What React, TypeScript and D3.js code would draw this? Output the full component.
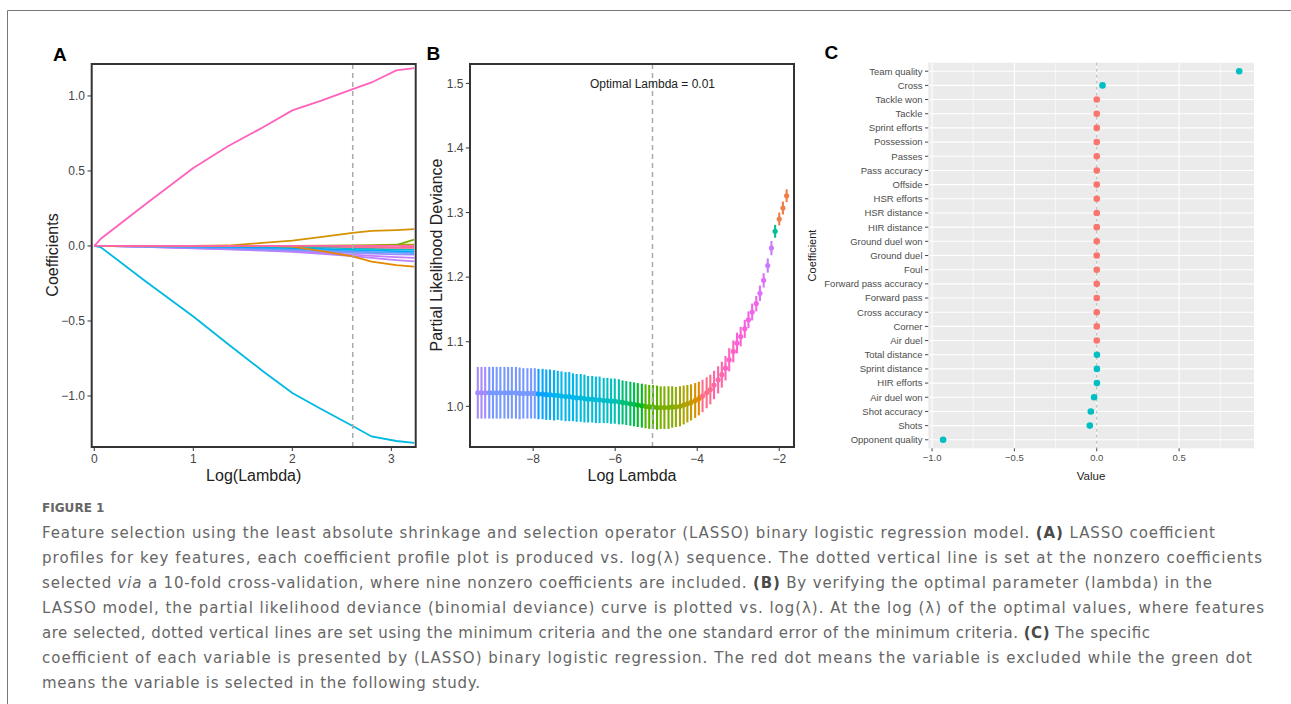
import * as d3 from "d3";
import React from "react";

// ---------- Panel A: LASSO coefficient profiles ----------
const profileLogLambda = [0, 0.07, 0.5, 1.0, 1.35, 1.7, 2.0, 2.3, 2.61, 2.8, 3.05, 3.23];
const profileValues = [
  [0, 0, -0.006, -0.016, -0.023, -0.031, -0.04, -0.052, -0.068, -0.08, -0.094, -0.102],
  [0, 0, -0.006, -0.015, -0.021, -0.028, -0.036, -0.046, -0.058, -0.066, -0.075, -0.08],
  [0, 0, -0.005, -0.012, -0.018, -0.024, -0.03, -0.038, -0.046, -0.051, -0.056, -0.058],
  [0, 0, -0.004, -0.009, -0.013, -0.018, -0.023, -0.03, -0.037, -0.041, -0.045, -0.047],
  [0, 0, 0, -0.003, -0.006, -0.01, -0.014, -0.02, -0.026, -0.03, -0.034, -0.036],
  [0, 0, 0, 0, 0, -0.002, -0.005, -0.01, -0.016, -0.02, -0.023, -0.025],
  [0, 0, 0, 0, 0, 0, 0, -0.003, -0.008, -0.01, -0.012, -0.013],
  [0, 0, 0, 0, 0, 0, 0, 0.002, 0.004, 0.006, 0.008, 0.009],
  [0, 0, 0, 0, 0, 0, 0, 0, 0, 0.001, 0.005, 0.042],
  [0, 0, 0, 0, 0, 0, -0.005, -0.035, -0.07, -0.105, -0.128, -0.137],
  [0, 0, 0, 0, 0.003, 0.02, 0.035, 0.06, 0.088, 0.1, 0.106, 0.112],
  [0, -0.01, -0.227, -0.47, -0.653, -0.833, -0.98, -1.09, -1.2, -1.27, -1.3, -1.313],
  [0, 0, 0, 0, 0, 0, 0, 0, 0, 0, 0, -0.002],
  [0, 0.05, 0.27, 0.52, 0.665, 0.79, 0.904, 0.97, 1.045, 1.09, 1.17, 1.185],
];
const profileColors = [
  "#B983FF", "#C77CFF", "#9590FF", "#619CFF", "#00A9FF", "#00BFC4", "#FF6C91",
  "#ABA300", "#7CAE00", "#E38900", "#D39200", "#00B9E3", "#FF64B0", "#FF62BC",
];
const profileCutoff = 2.61;

// ---------- Panel B: cross-validation deviance ----------
const cvLogLambda = [
  -9.35, -9.26, -9.17, -9.07, -8.98, -8.89, -8.8, -8.7, -8.61, -8.52,
  -8.42, -8.33, -8.24, -8.14, -8.05, -7.96, -7.87, -7.77, -7.68, -7.59,
  -7.49, -7.4, -7.31, -7.21, -7.12, -7.03, -6.94, -6.84, -6.75, -6.66,
  -6.56, -6.47, -6.38, -6.28, -6.19, -6.1, -6.01, -5.91, -5.82, -5.73,
  -5.63, -5.54, -5.45, -5.35, -5.26, -5.17, -5.08, -4.98, -4.89, -4.8,
  -4.7, -4.61, -4.52, -4.42, -4.33, -4.24, -4.15, -4.05, -3.96, -3.87,
  -3.77, -3.68, -3.59, -3.49, -3.4, -3.31, -3.22, -3.12, -3.03, -2.94,
  -2.84, -2.75, -2.66, -2.56, -2.47, -2.38, -2.28, -2.19, -2.1, -2.0,
  -1.91, -1.82,
];
const cvMean = [
  1.021, 1.021, 1.021, 1.021, 1.021, 1.021, 1.021, 1.021, 1.021, 1.021,
  1.021, 1.02, 1.02, 1.02, 1.02, 1.02, 1.019, 1.019, 1.018, 1.018,
  1.017, 1.017, 1.016, 1.015, 1.015, 1.014, 1.013, 1.013, 1.012, 1.011,
  1.011, 1.01, 1.01, 1.009, 1.009, 1.008, 1.008, 1.007, 1.006, 1.005,
  1.004, 1.003, 1.002, 1.001, 1.0, 0.999, 0.999, 0.998, 0.998, 0.998,
  0.998, 0.999, 0.999, 1.0, 1.002, 1.004, 1.006, 1.009, 1.012, 1.016,
  1.021, 1.026, 1.033, 1.041, 1.049, 1.059, 1.072, 1.085, 1.098, 1.108,
  1.12, 1.134, 1.146, 1.159, 1.175, 1.195, 1.218, 1.245, 1.271, 1.29,
  1.307, 1.326,
];
const cvSd = [
  0.04, 0.04, 0.04, 0.04, 0.04, 0.04, 0.04, 0.04, 0.04, 0.04,
  0.04, 0.04, 0.039, 0.039, 0.039, 0.039, 0.039, 0.039, 0.039, 0.039,
  0.039, 0.038, 0.038, 0.038, 0.038, 0.037, 0.037, 0.037, 0.037, 0.036,
  0.036, 0.036, 0.036, 0.035, 0.035, 0.035, 0.035, 0.035, 0.034, 0.034,
  0.034, 0.034, 0.034, 0.034, 0.034, 0.034, 0.034, 0.034, 0.033, 0.033,
  0.033, 0.032, 0.031, 0.031, 0.03, 0.029, 0.028, 0.027, 0.026, 0.025,
  0.024, 0.023, 0.022, 0.021, 0.02, 0.019, 0.018, 0.017, 0.016, 0.015,
  0.014, 0.013, 0.013, 0.012, 0.012, 0.011, 0.011, 0.011, 0.01, 0.01,
  0.01, 0.01,
];
const cvNonzero = [
  27, 27, 27, 26, 26, 26, 26, 26, 26, 26,
  26, 26, 26, 26, 26, 26, 25, 25, 25, 24,
  24, 23, 23, 23, 23, 23, 23, 22, 22, 22,
  22, 22, 22, 21, 21, 21, 20, 20, 19, 19,
  18, 18, 17, 17, 16, 16, 16, 16, 15, 15,
  15, 15, 14, 14, 13, 13, 12, 11, 10, 9,
  9, 9, 8, 8, 8, 7, 7, 7, 6, 6,
  6, 5, 5, 5, 4, 4, 3, 3, 2, 1,
  1, 1,
];
// factor levels of the nonzero count (0 to 27 variables), ordered as strings
const nonzeroLevels = [
  "0", "1", "10", "11", "12", "13", "14", "15", "16", "17", "18", "19", "2", "20",
  "21", "22", "23", "24", "25", "26", "27", "3", "4", "5", "6", "7", "8", "9",
];
const optimalLogLambda = -5.09;

// ---------- Panel C: coefficient of each variable ----------
const coefNames = [
  "Team quality", "Cross", "Tackle won", "Tackle", "Sprint efforts", "Possession",
  "Passes", "Pass accuracy", "Offside", "HSR efforts", "HSR distance", "HIR distance",
  "Ground duel won", "Ground duel", "Foul", "Forward pass accuracy", "Forward pass",
  "Cross accuracy", "Corner", "Air duel", "Total distance", "Sprint distance",
  "HIR efforts", "Air duel won", "Shot accuracy", "Shots", "Opponent quality",
];
const coefValues = [
  0.865, 0.035, 0, 0, 0, 0, 0, 0, 0, 0, 0, 0, 0, 0, 0, 0, 0, 0, 0, 0,
  0.001, 0.001, 0.001, -0.016, -0.036, -0.042, -0.933,
];

// ---------- caption ----------
type Seg = { t: string; b?: boolean; i?: boolean };
const captionLines: Seg[][] = [
  [
    { t: "Feature selection using the least absolute shrinkage and selection operator (LASSO) binary logistic regression model. " },
    { t: "(A)", b: true },
    { t: " LASSO coefficient" },
  ],
  [{ t: "profiles for key features, each coefficient profile plot is produced vs. log(λ) sequence. The dotted vertical line is set at the nonzero coefficients" }],
  [
    { t: "selected " },
    { t: "via", i: true },
    { t: " a 10-fold cross-validation, where nine nonzero coefficients are included. " },
    { t: "(B)", b: true },
    { t: " By verifying the optimal parameter (lambda) in the" },
  ],
  [{ t: "LASSO model, the partial likelihood deviance (binomial deviance) curve is plotted vs. log(λ). At the log (λ) of the optimal values, where features" }],
  [
    { t: "are selected, dotted vertical lines are set using the minimum criteria and the one standard error of the minimum criteria. " },
    { t: "(C)", b: true },
    { t: " The specific" },
  ],
  [{ t: "coefficient of each variable is presented by (LASSO) binary logistic regression. The red dot means the variable is excluded while the green dot" }],
  [{ t: "means the variable is selected in the following study." }],
];
const captionEnds = [1215, 1262, 1212, 1264, 1150, 1252, 480];

// ggplot2-style hue colour (polar LUV)
function hueColor(h: number, c = 100, l = 65) {
  const hr = (h * Math.PI) / 180;
  const U = c * Math.cos(hr);
  const V = c * Math.sin(hr);
  const Xn = 95.047, Yn = 100, Zn = 108.883;
  const Y = Yn * (l > 8 ? Math.pow((l + 16) / 116, 3) : l / 903.3);
  const den = Xn + 15 * Yn + 3 * Zn;
  const u = U / (13 * l) + (4 * Xn) / den;
  const v = V / (13 * l) + (9 * Yn) / den;
  const X = (9 * Y * u) / (4 * v);
  const Z = -X / 3 - 5 * Y + (3 * Y) / v;
  const x = X / 100, y = Y / 100, z = Z / 100;
  const lin = [
    3.240479 * x - 1.53715 * y - 0.498535 * z,
    -0.969256 * x + 1.875992 * y + 0.041556 * z,
    0.055648 * x - 0.204043 * y + 1.057311 * z,
  ];
  const g = lin.map((t) => {
    const s = t <= 0.0031308 ? 12.92 * t : 1.055 * Math.pow(t, 1 / 2.4) - 0.055;
    return Math.round(Math.max(0, Math.min(1, s)) * 255);
  });
  return d3.rgb(g[0], g[1], g[2]).formatHex();
}

const FONT = "'Liberation Sans', Arial, Helvetica, sans-serif";
const fmt = d3.format(".1f");

function PanelA() {
  const x = d3.scaleLinear().domain([-0.026, 3.246]).range([91.7, 415.7]);
  const y = d3.scaleLinear().domain([-1.34, 1.213]).range([447, 64]);
  const line = d3
    .line<number>()
    .x((_, i) => x(profileLogLambda[i]))
    .y((d) => y(d));
  return (
    <g fontFamily={FONT}>
      <text x={53} y={60.5} fontSize={19} fontWeight={700} fill="#000">A</text>
      {profileValues.map((vals, i) => (
        <path key={i} d={line(vals) || ""} fill="none" stroke={profileColors[i]} strokeWidth={1.8} />
      ))}
      <line x1={x(profileCutoff)} x2={x(profileCutoff)} y1={64} y2={447} stroke="#aaa" strokeWidth={1.5} strokeDasharray="5,4" />
      <rect x={91.7} y={64} width={324} height={383} fill="none" stroke="#333" strokeWidth={2} />
      {[-1, -0.5, 0, 0.5, 1].map((t) => (
        <g key={t}>
          <line x1={87.5} x2={91.7} y1={y(t)} y2={y(t)} stroke="#333" />
          <text x={85} y={y(t) + 4.3} textAnchor="end" fontSize={12} fill="#444">{fmt(t)}</text>
        </g>
      ))}
      {[0, 1, 2, 3].map((t) => (
        <g key={t}>
          <line x1={x(t)} x2={x(t)} y1={447} y2={451} stroke="#333" />
          <text x={x(t)} y={462.6} textAnchor="middle" fontSize={12} fill="#444">{t}</text>
        </g>
      ))}
      <text x={253.7} y={480.5} textAnchor="middle" fontSize={16} fill="#222">Log(Lambda)</text>
      <text transform="translate(57.5,255) rotate(-90)" textAnchor="middle" fontSize={16} fill="#222">Coefficients</text>
    </g>
  );
}

function PanelB() {
  const x = d3.scaleLinear().domain([-9.54, -1.64]).range([470, 794]);
  const y = d3.scaleLinear().domain([0.937, 1.53]).range([447, 64]);
  const color = d3
    .scaleOrdinal<string, string>()
    .domain(nonzeroLevels)
    .range(nonzeroLevels.map((_, i) => hueColor(15 + (360 * i) / nonzeroLevels.length)));
  return (
    <g fontFamily={FONT}>
      <text x={426.5} y={60} fontSize={19} fontWeight={700} fill="#000">B</text>
      {cvLogLambda.map((lx, i) => (
        <line
          key={"b" + i}
          x1={x(lx)}
          x2={x(lx)}
          y1={y(cvMean[i] - cvSd[i])}
          y2={y(cvMean[i] + cvSd[i])}
          stroke={color(String(cvNonzero[i]))}
          strokeWidth={2.1}
        />
      ))}
      {cvLogLambda.map((lx, i) => (
        <circle key={"p" + i} cx={x(lx)} cy={y(cvMean[i])} r={2.6} fill={color(String(cvNonzero[i]))} />
      ))}
      <line x1={x(optimalLogLambda)} x2={x(optimalLogLambda)} y1={64} y2={447} stroke="#aaa" strokeWidth={1.5} strokeDasharray="5,4" />
      <text x={x(optimalLogLambda)} y={y(1.5) + 4.2} textAnchor="middle" fontSize={12} fill="#222">Optimal Lambda = 0.01</text>
      <rect x={470} y={64} width={324} height={383} fill="none" stroke="#333" strokeWidth={2} />
      {[1.0, 1.1, 1.2, 1.3, 1.4, 1.5].map((t) => (
        <g key={t}>
          <line x1={465.8} x2={470} y1={y(t)} y2={y(t)} stroke="#333" />
          <text x={463.5} y={y(t) + 4.3} textAnchor="end" fontSize={12} fill="#444">{fmt(t)}</text>
        </g>
      ))}
      {[-8, -6, -4, -2].map((t) => (
        <g key={t}>
          <line x1={x(t)} x2={x(t)} y1={447} y2={451} stroke="#333" />
          <text x={x(t)} y={462.6} textAnchor="middle" fontSize={12} fill="#444">{d3.format("d")(t)}</text>
        </g>
      ))}
      <text x={632} y={480.5} textAnchor="middle" fontSize={16} fill="#222">Log Lambda</text>
      <text transform="translate(441.5,255) rotate(-90)" textAnchor="middle" fontSize={16} fill="#222">Partial Likelihood Deviance</text>
    </g>
  );
}

function PanelC() {
  const [lo, hi] = d3.extent(coefValues) as [number, number];
  const pad = (hi - lo) * 0.05;
  const x = d3.scaleLinear().domain([lo - pad, hi + pad]).range([928.3, 1254]);
  const y = d3.scalePoint<string>().domain(coefNames).range([62.7, 448.3]).padding(0.6);
  const top = 62.7, bottom = 448.3;
  return (
    <g fontFamily={FONT}>
      <text x={824.5} y={59} fontSize={19} fontWeight={700} fill="#000">C</text>
      <rect x={928.3} y={top} width={1254 - 928.3} height={bottom - top} fill="#EBEBEB" />
      {[-0.75, -0.25, 0.25, 0.75].map((t) => (
        <line key={t} x1={x(t)} x2={x(t)} y1={top} y2={bottom} stroke="#fff" strokeWidth={0.6} />
      ))}
      {[-1, -0.5, 0, 0.5].map((t) => (
        <line key={t} x1={x(t)} x2={x(t)} y1={top} y2={bottom} stroke="#fff" strokeWidth={1.1} />
      ))}
      {coefNames.map((n) => (
        <line key={n} x1={928.3} x2={1254} y1={y(n)} y2={y(n)} stroke="#fff" strokeWidth={1.1} />
      ))}
      <line x1={x(0)} x2={x(0)} y1={top} y2={bottom} stroke="#aaa" strokeWidth={0.9} strokeDasharray="3,3" />
      {coefNames.map((n, i) => (
        <circle key={n} cx={x(coefValues[i])} cy={y(n)} r={3.3} fill={coefValues[i] !== 0 ? "#00BFC4" : "#F8766D"} />
      ))}
      {coefNames.map((n) => (
        <g key={n}>
          <line x1={925} x2={928.3} y1={y(n)} y2={y(n)} stroke="#333" strokeWidth={0.9} />
          <text x={922.5} y={(y(n) || 0) + 3.4} textAnchor="end" fontSize={9.5} fill="#4D4D4D">{n}</text>
        </g>
      ))}
      {[-1, -0.5, 0, 0.5].map((t) => (
        <g key={t}>
          <line x1={x(t)} x2={x(t)} y1={bottom} y2={bottom + 3} stroke="#333" strokeWidth={0.9} />
          <text x={x(t)} y={460.8} textAnchor="middle" fontSize={9.5} fill="#4D4D4D">{fmt(t)}</text>
        </g>
      ))}
      <text x={1091} y={479.5} textAnchor="middle" fontSize={11.5} fill="#222">Value</text>
      <text transform="translate(816,255.5) rotate(-90)" textAnchor="middle" fontSize={11} fill="#222">Coefficient</text>
    </g>
  );
}

function Caption() {
  const CF = "'DejaVu Sans', 'Open Sans', sans-serif";
  return (
    <g fontFamily={CF}>
      <text x={42} y={512} fontSize={12} fontWeight={700} fill="#666" textLength={62.5} lengthAdjust="spacingAndGlyphs">FIGURE 1</text>
      {captionLines.map((segs, li) => (
        <text
          key={li}
          x={42}
          y={537.5 + li * 25}
          fontSize={15}
          fill="#666"
          textLength={captionEnds[li] - 42}
          lengthAdjust="spacing"
          style={{ whiteSpace: "pre" }}
        >
          {segs.map((s, si) => (
            <tspan key={si} fontWeight={s.b ? 700 : undefined} fontStyle={s.i ? "italic" : undefined} fill={s.b ? "#4a4a4a" : undefined}>
              {s.t}
            </tspan>
          ))}
        </text>
      ))}
    </g>
  );
}

export default function App() {
  return (
    <svg width={1291} height={704} style={{ position: "absolute", left: 0, top: 0, background: "#fff" }}>
      <rect width={1291} height={704} fill="#fff" />
      <path d="M1291,10.5 H7.5 V704" fill="none" stroke="#777" strokeWidth={1} />
      <PanelA />
      <PanelB />
      <PanelC />
      <Caption />
    </svg>
  );
}
